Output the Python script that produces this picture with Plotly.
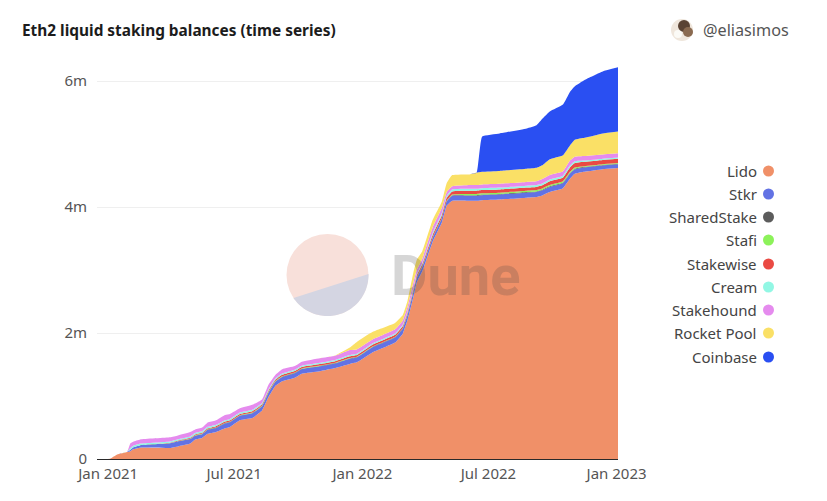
import numpy as np
import plotly.graph_objects as go

WIDTH = 827
HEIGHT = 501
PLOT_L, PLOT_R, PLOT_T, PLOT_B = 97, 618, 56, 459

# values in millions of ETH
dates = [
    "2020-12-16", "2021-01-04", "2021-01-14", "2021-01-28", "2021-02-02", "2021-02-06", "2021-02-16",
    "2021-03-31", "2021-04-11", "2021-04-29", "2021-05-06", "2021-05-16", "2021-05-24", "2021-06-04",
    "2021-06-18", "2021-06-25", "2021-07-09", "2021-07-27", "2021-08-10", "2021-08-19", "2021-08-29",
    "2021-09-08", "2021-09-26", "2021-10-06", "2021-11-01", "2021-11-23", "2021-12-14", "2021-12-24",
    "2022-01-16", "2022-02-17", "2022-02-28", "2022-03-07", "2022-03-15", "2022-03-20", "2022-03-28",
    "2022-04-12", "2022-04-25", "2022-05-02", "2022-05-10", "2022-06-04", "2022-06-14", "2022-06-22",
    "2022-07-17", "2022-08-25", "2022-09-08", "2022-09-17", "2022-09-27", "2022-10-16", "2022-10-26",
    "2022-11-02", "2022-11-16", "2022-12-12", "2023-01-03",
]
lido = [
    0, 0.005, 0.07, 0.11, 0.125, 0.155, 0.18,
    0.175, 0.20, 0.245, 0.31, 0.335, 0.40, 0.425,
    0.49, 0.51, 0.615, 0.65, 0.77, 0.98, 1.16,
    1.235, 1.29, 1.355, 1.395, 1.445, 1.51, 1.535,
    1.695, 1.85, 1.99, 2.21, 2.56, 2.80, 2.98,
    3.45, 3.75, 4.02, 4.10, 4.10, 4.10, 4.11,
    4.12, 4.15, 4.16, 4.19, 4.24, 4.30, 4.45,
    4.53, 4.56, 4.60, 4.62,
]
stkr = [
    0, 0, 0, 0, 0.02, 0.03, 0.04,
    0.075, 0.08, 0.072, 0.06, 0.06, 0.065, 0.065,
    0.075, 0.075, 0.07, 0.075, 0.067, 0.067, 0.065,
    0.067, 0.072, 0.072, 0.077, 0.072, 0.082, 0.077,
    0.082, 0.08, 0.08, 0.08, 0.08, 0.07, 0.07,
    0.06, 0.07, 0.07, 0.08, 0.08, 0.08, 0.08,
    0.08, 0.08, 0.08, 0.08, 0.08, 0.08, 0.08,
    0.07, 0.07, 0.06, 0.06,
]
shared_stake = [
    0, 0, 0, 0, 0, 0, 0,
    0.002, 0.003, 0.004, 0.004, 0.004, 0.004, 0.005,
    0.005, 0.005, 0.005, 0.006, 0.006, 0.006, 0.006,
    0.006, 0.006, 0.006, 0.006, 0.006, 0.006, 0.006,
    0.006, 0.006, 0.006, 0.006, 0.006, 0.006, 0.006,
    0.006, 0.006, 0.006, 0.01, 0.01, 0.01, 0.01,
    0.01, 0.01, 0.01, 0.01, 0.01, 0.01, 0.01,
    0.01, 0.01, 0.01, 0.01,
]
stafi = [
    0, 0, 0, 0, 0, 0, 0,
    0.002, 0.003, 0.004, 0.004, 0.004, 0.004, 0.005,
    0.005, 0.005, 0.005, 0.006, 0.006, 0.006, 0.006,
    0.006, 0.006, 0.006, 0.006, 0.006, 0.006, 0.006,
    0.006, 0.006, 0.006, 0.006, 0.006, 0.006, 0.006,
    0.006, 0.006, 0.006, 0.01, 0.02, 0.02, 0.02,
    0.02, 0.02, 0.02, 0.02, 0.02, 0.02, 0.02,
    0.02, 0.01, 0.01, 0.01,
]
stakewise = [
    0, 0, 0, 0, 0, 0, 0,
    0.005, 0.008, 0.012, 0.012, 0.014, 0.016, 0.018,
    0.02, 0.02, 0.02, 0.022, 0.02, 0.02, 0.02,
    0.022, 0.022, 0.022, 0.024, 0.024, 0.026, 0.026,
    0.028, 0.03, 0.03, 0.03, 0.032, 0.032, 0.032,
    0.04, 0.04, 0.045, 0.05, 0.05, 0.05, 0.05,
    0.05, 0.05, 0.05, 0.05, 0.06, 0.06, 0.07,
    0.07, 0.07, 0.07, 0.07,
]
cream = [
    0, 0, 0, 0, 0.03, 0.025, 0.025,
    0.02, 0.02, 0.022, 0.022, 0.022, 0.022, 0.022,
    0.022, 0.022, 0.022, 0.022, 0.02, 0.02, 0.02,
    0.02, 0.02, 0.02, 0.02, 0.02, 0.02, 0.02,
    0.02, 0.02, 0.02, 0.02, 0.02, 0.02, 0.02,
    0.03, 0.03, 0.03, 0.03, 0.03, 0.03, 0.03,
    0.03, 0.03, 0.03, 0.03, 0.03, 0.03, 0.03,
    0.03, 0.02, 0.02, 0.02,
]
stakehound = [
    0, 0, 0, 0, 0.075, 0.065, 0.065,
    0.065, 0.061, 0.071, 0.058, 0.061, 0.069, 0.07,
    0.083, 0.078, 0.068, 0.079, 0.056, 0.076, 0.058,
    0.069, 0.059, 0.064, 0.072, 0.067, 0.08, 0.07,
    0.063, 0.068, 0.068, 0.068, 0.086, 0.066, 0.066,
    0.088, 0.084, 0.06, 0.05, 0.06, 0.06, 0.06,
    0.06, 0.06, 0.06, 0.07, 0.07, 0.07, 0.08,
    0.07, 0.07, 0.065, 0.065,
]
rocket_pool = [
    0, 0, 0, 0, 0, 0, 0,
    0, 0, 0, 0, 0, 0, 0,
    0, 0, 0, 0, 0, 0, 0,
    0, 0, 0, 0, 0.005, 0.04, 0.12,
    0.12, 0.10, 0.085, 0.10, 0.16, 0.16, 0.12,
    0.12, 0.10, 0.143, 0.18, 0.17, 0.195, 0.20,
    0.205, 0.21, 0.215, 0.22, 0.25, 0.255, 0.24,
    0.27, 0.29, 0.335, 0.345,
]
coinbase = [
    0, 0, 0, 0, 0, 0, 0,
    0, 0, 0, 0, 0, 0, 0,
    0, 0, 0, 0, 0, 0, 0,
    0, 0, 0, 0, 0, 0, 0,
    0, 0, 0, 0, 0, 0, 0,
    0, 0, 0, 0, 0, 0, 0.56,
    0.595, 0.64, 0.675, 0.74, 0.76, 0.805, 0.85,
    0.85, 0.92, 0.985, 1.02,
]

names = ["Lido", "Stkr", "SharedStake", "Stafi", "Stakewise", "Cream", "Stakehound", "Rocket Pool", "Coinbase"]
colors = ["#f09068", "#6272e4", "#5c5c5c", "#8cf25a", "#ea4a43", "#92f7e4", "#e58bee", "#fae066", "#2a4ff2"]
series = [lido, stkr, shared_stake, stafi, stakewise, cream, stakehound, rocket_pool, coinbase]
y_ticks = [0, 2, 4, 6]
y_labels = ["0", "2m", "4m", "6m"]
x_ticks = ["2021-01-01", "2021-07-01", "2022-01-01", "2022-07-01", "2023-01-01"]
x_labels = ["Jan 2021", "Jul 2021", "Jan 2022", "Jul 2022", "Jan 2023"]
legend_y = [171, 194, 217, 240, 264, 287, 310, 333, 357]

FONT = "Noto Sans"


# paper coords are relative to the plot area, so go through these for pixel spots
def px(x):
    return (x - PLOT_L) / (PLOT_R - PLOT_L)


def py(y):
    return (PLOT_B - y) / (PLOT_B - PLOT_T)


def circle(cx, cy, r, color, layer="above"):
    return dict(type="circle", xref="paper", yref="paper", x0=px(cx - r), x1=px(cx + r),
                y0=py(cy + r), y1=py(cy - r), fillcolor=color, line=dict(width=0), layer=layer)


fig = go.Figure()
for name, color, values in zip(names, colors, series):
    fig.add_trace(go.Scatter(x=dates, y=values, name=name, mode="lines", stackgroup="one",
                             line=dict(width=0, color=color, shape="spline", smoothing=0.35), fillcolor=color))

# Dune logo, lower part of the disc is a polygon
angles = np.radians(np.linspace(-1.5, 146, 60))
cx, cy, r = 327.5, 275, 41
seg = " ".join(("M" if i == 0 else "L") + f"{px(cx + r * np.cos(a)):.5f},{py(cy + r * np.sin(a)):.5f}"
               for i, a in enumerate(angles)) + " Z"
shapes = [
    circle(cx, cy, r, "#f8e0da"),
    dict(type="path", path=seg, xref="paper", yref="paper", fillcolor="#d4d5e2", line=dict(width=0), layer="above"),
    # avatar
    circle(682, 30, 11, "#efe6dc"),
    circle(684, 26, 6, "#5a4334"),
    circle(688, 32, 5, "#8a6a50"),
    circle(678, 34, 4, "#fbfaf6"),
]

annotations = [
    dict(text="<b>Eth2 liquid staking balances (time series)</b>", x=px(20), y=py(30), xref="paper", yref="paper",
         xanchor="left", yanchor="middle", showarrow=False, font=dict(family=FONT, size=15.4, color="#1c1c1c")),
    dict(text="@eliasimos", x=px(701), y=py(30), xref="paper", yref="paper", xanchor="left", yanchor="middle",
         showarrow=False, font=dict(family=FONT, size=16.2, color="#555555")),
    dict(text="<b>Dune</b>", x=px(455), y=py(276), xref="paper", yref="paper", xanchor="center", yanchor="middle",
         showarrow=False, font=dict(family="Roboto", size=56, color="rgba(70,70,70,0.22)")),
]

for name, color, y in zip(names, colors, legend_y):
    annotations.append(dict(text=name, x=px(759), y=py(y), xref="paper", yref="paper", xanchor="right",
                            yanchor="middle", showarrow=False, font=dict(family=FONT, size=15, color="#444444")))
    shapes.append(circle(768.5, y, 5.5, color))

fig.update_layout(
    width=WIDTH, height=HEIGHT, autosize=False, showlegend=False,
    margin=dict(l=PLOT_L, r=WIDTH - PLOT_R, t=PLOT_T, b=HEIGHT - PLOT_B),
    paper_bgcolor="white", plot_bgcolor="white",
    font=dict(family=FONT),
    shapes=shapes, annotations=annotations,
    xaxis=dict(type="date", range=["2020-12-16", "2023-01-03"], tickvals=x_ticks, ticktext=x_labels,
               showgrid=False, zeroline=False, showline=True, linecolor="#2a2a2a", linewidth=1,
               ticks="", ticklabelstandoff=1, tickfont=dict(family=FONT, size=15, color="#555555")),
    yaxis=dict(range=[0, 6.4], tickvals=y_ticks, ticktext=y_labels, showgrid=True, gridcolor="#efefef",
               gridwidth=1, zeroline=False, showline=False, ticks="", ticklabelstandoff=9,
               tickfont=dict(family=FONT, size=15, color="#555555")),
)

fig.write_html("out.html", config={"displayModeBar": False}, post_script="document.body.style.margin='0';")
